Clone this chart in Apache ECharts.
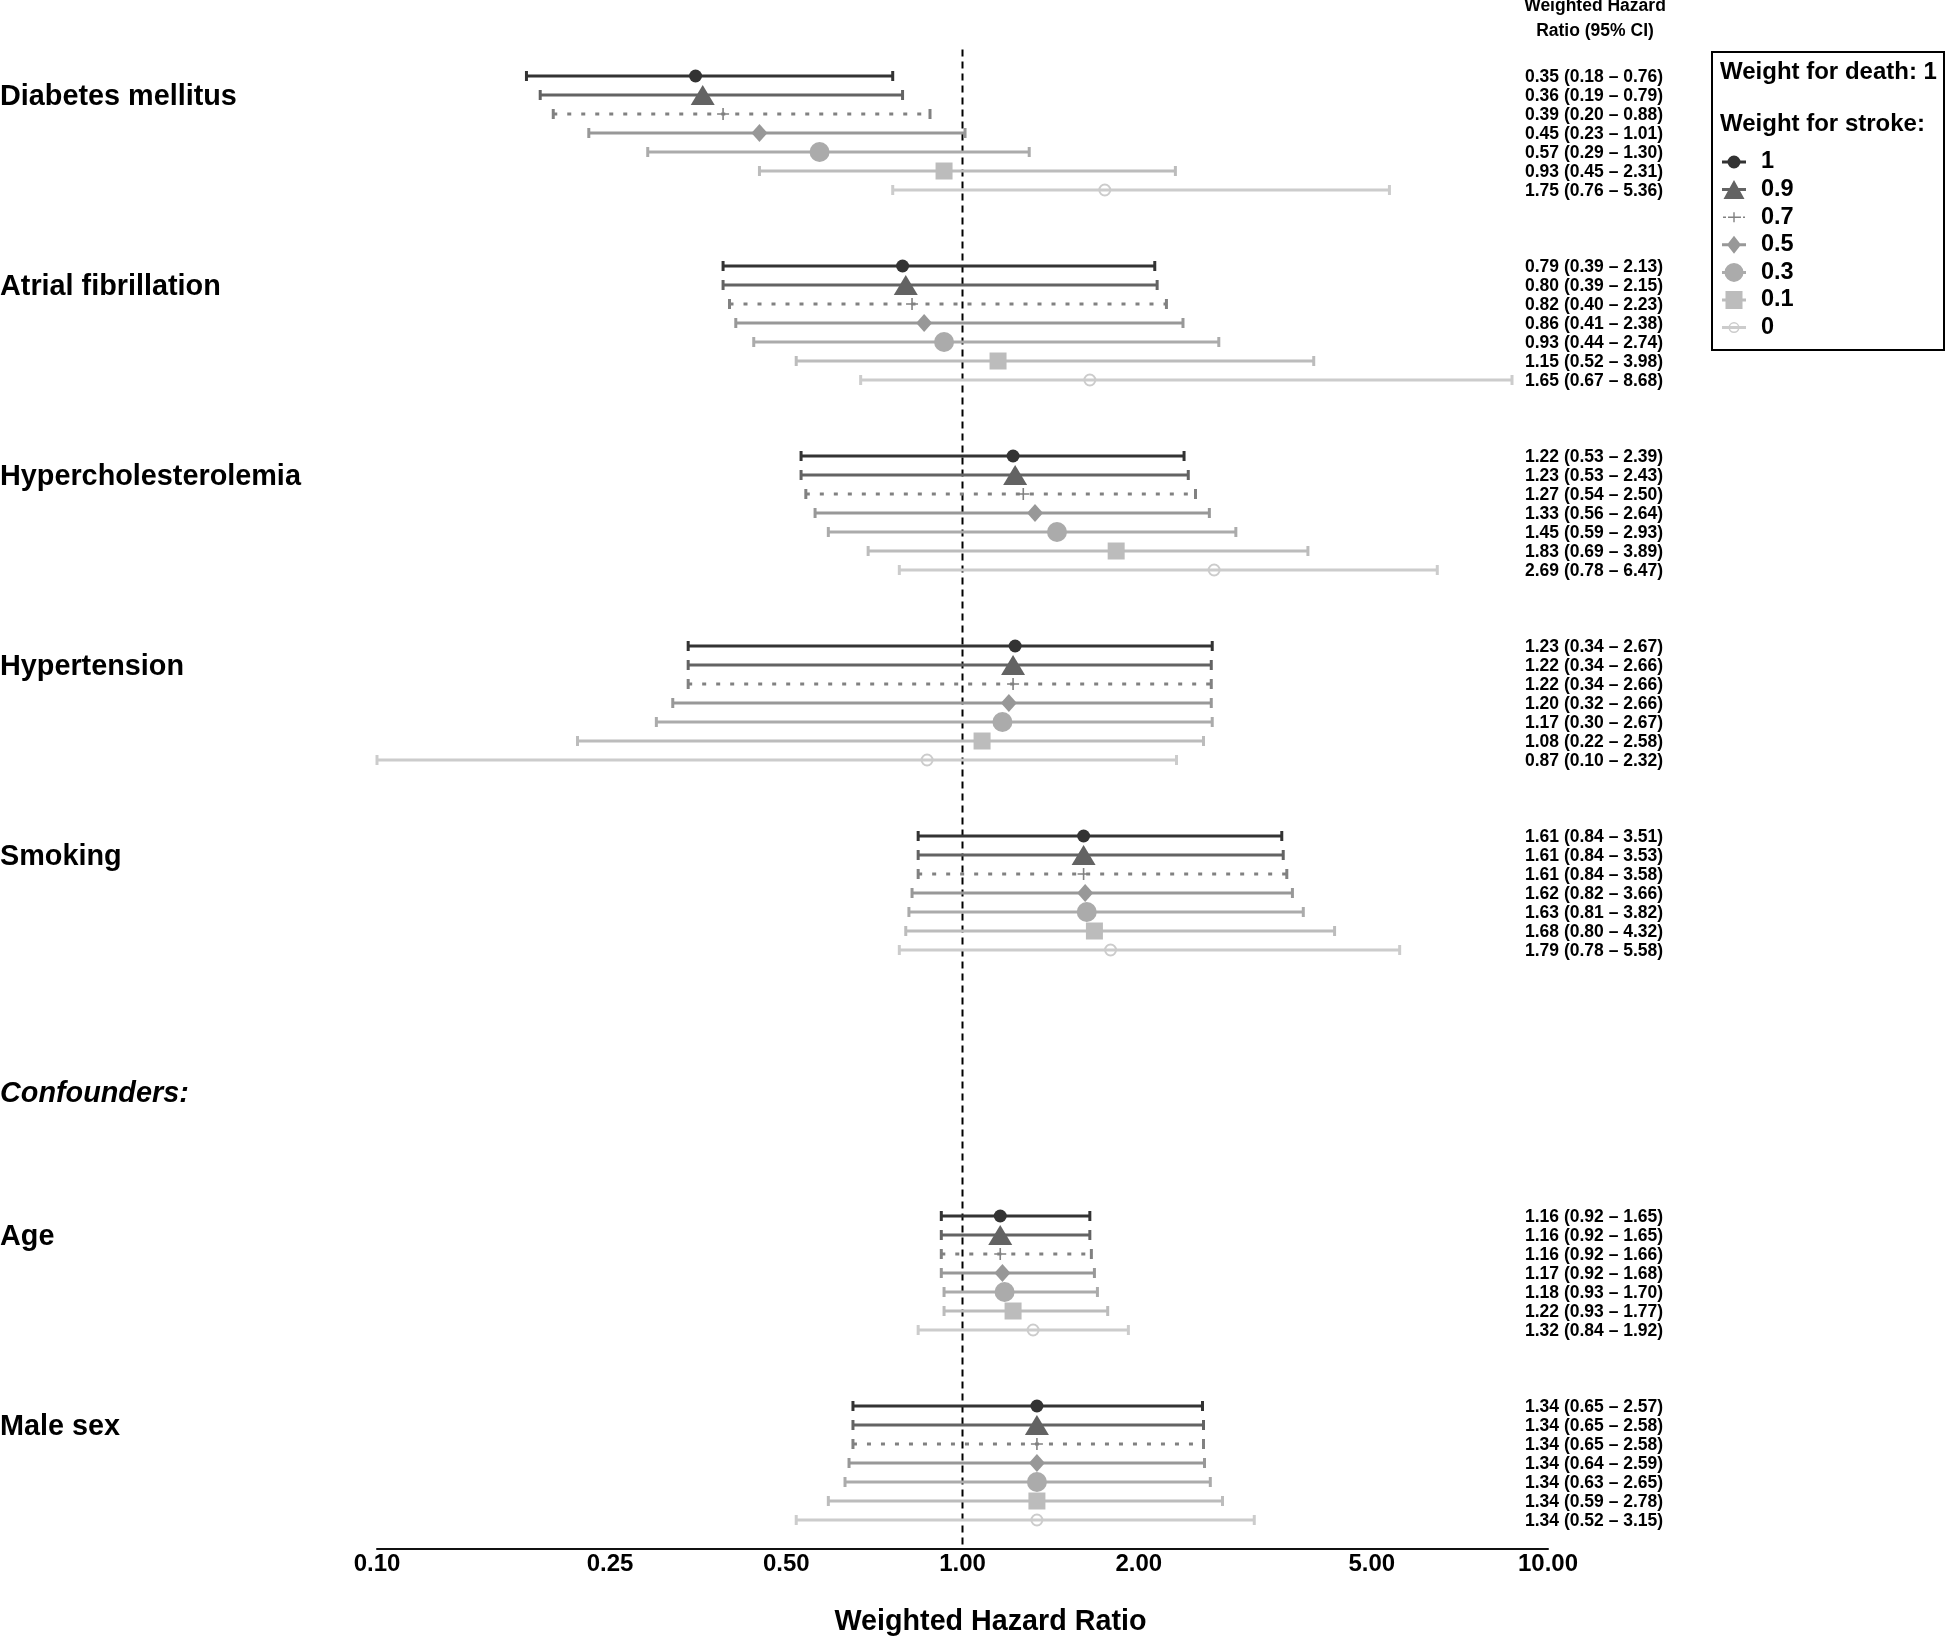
<!DOCTYPE html>
<html><head><meta charset="utf-8">
<script src="https://cdn.jsdelivr.net/npm/echarts@6/dist/echarts.min.js"></script>
<style>html,body{margin:0;padding:0;background:#fff}#chart{width:1946px;height:1637px}</style>
</head><body><div id="chart"></div>
<script>
// ---------- DATA ----------
const strokeWeights = ['1', '0.9', '0.7', '0.5', '0.3', '0.1', '0'];
const groupNames = ['Diabetes mellitus', 'Atrial fibrillation', 'Hypercholesterolemia', 'Hypertension', 'Smoking', 'Age', 'Male sex'];
const groupFirstRow = [0, 10, 20, 30, 40, 60, 70];
const sectionLabel = 'Confounders:';
const sectionRow = 53.5;
// [HR, lower, upper] for stroke weight 1, 0.9, 0.7, 0.5, 0.3, 0.1, 0
const diabetesMellitus = [[0.35,0.18,0.76],[0.36,0.19,0.79],[0.39,0.20,0.88],[0.45,0.23,1.01],[0.57,0.29,1.30],[0.93,0.45,2.31],[1.75,0.76,5.36]];
const atrialFibrillation = [[0.79,0.39,2.13],[0.80,0.39,2.15],[0.82,0.40,2.23],[0.86,0.41,2.38],[0.93,0.44,2.74],[1.15,0.52,3.98],[1.65,0.67,8.68]];
const hypercholesterolemia = [[1.22,0.53,2.39],[1.23,0.53,2.43],[1.27,0.54,2.50],[1.33,0.56,2.64],[1.45,0.59,2.93],[1.83,0.69,3.89],[2.69,0.78,6.47]];
const hypertension = [[1.23,0.34,2.67],[1.22,0.34,2.66],[1.22,0.34,2.66],[1.20,0.32,2.66],[1.17,0.30,2.67],[1.08,0.22,2.58],[0.87,0.10,2.32]];
const smoking = [[1.61,0.84,3.51],[1.61,0.84,3.53],[1.61,0.84,3.58],[1.62,0.82,3.66],[1.63,0.81,3.82],[1.68,0.80,4.32],[1.79,0.78,5.58]];
const age = [[1.16,0.92,1.65],[1.16,0.92,1.65],[1.16,0.92,1.66],[1.17,0.92,1.68],[1.18,0.93,1.70],[1.22,0.93,1.77],[1.32,0.84,1.92]];
const maleSex = [[1.34,0.65,2.57],[1.34,0.65,2.58],[1.34,0.65,2.58],[1.34,0.64,2.59],[1.34,0.63,2.65],[1.34,0.59,2.78],[1.34,0.52,3.15]];
const xTicks = [0.1, 0.25, 0.5, 1, 2, 5, 10];
const referenceHR = 1;

// ---------- STYLE ----------
const groups = [diabetesMellitus, atrialFibrillation, hypercholesterolemia, hypertension, smoking, age, maleSex];
const FONT = "'Liberation Sans', Arial, Helvetica, sans-serif";
const colors = ['#333333', '#636363', '#818181', '#989898', '#ababab', '#bcbcbc', '#cccccc'];
const crossPath = 'path://M5.2 0H6.8V5.2H12V6.8H6.8V12H5.2V6.8H0V5.2H5.2Z';
const symbols = ['circle', 'triangle', crossPath, 'diamond', 'circle', 'rect', 'circle'];
const sizes = [13, [24, 20], 12, [16, 18], 20, 17, 11];
const pre = 'M0 0M34 20';
const lineP = 'M0 8.5H24V11.5H0Z';
const legendIcons = [
  'path://' + pre + lineP + 'M18.5 10A6.5 6.5 0 1 1 5.5 10A6.5 6.5 0 1 1 18.5 10Z',
  'path://' + pre + lineP + 'M12 0.5L22.5 19.5H1.5Z',
  'path://' + pre + 'M1 9.2H4V10.8H1Z M6 9.2H8.5V10.8H6Z M17 9.2H19V10.8H17Z M21 9.2H23V10.8H21Z M11.3 5H12.7V9.3H17V10.7H12.7V15H11.3V10.7H7V9.3H11.3Z',
  'path://' + pre + lineP + 'M12 1L19 10L12 19L5 10Z',
  'path://' + pre + lineP + 'M21.5 10A9.5 9.5 0 1 1 2.5 10A9.5 9.5 0 1 1 21.5 10Z',
  'path://' + pre + lineP + 'M3.5 1H20.5V19H3.5Z',
  'path://' + pre + lineP + 'M17.5 10A5.5 5.5 0 1 1 6.5 10A5.5 5.5 0 1 1 17.5 10Z M16 10A4 4 0 1 0 8 10A4 4 0 1 0 16 10Z'
];

const series = [];

// reference line at HR = 1
series.push({
  type: 'custom', name: 'ref', silent: true, z: 1,
  data: [[referenceHR, -1.4, 77.5]],
  encode: { x: 0, y: [1, 2] },
  renderItem: function (params, api) {
    const a = api.coord([api.value(0), api.value(1)]);
    const b = api.coord([api.value(0), api.value(2)]);
    return { type: 'line', shape: { x1: a[0], y1: a[1], x2: b[0], y2: b[1] },
      style: { stroke: '#000', lineWidth: 2, lineDash: [7, 5] } };
  }
});

strokeWeights.forEach(function (w, si) {
  const rows = groups.map(function (g, gi) { return [g[si][0], groupFirstRow[gi] + si, g[si][1], g[si][2]]; });
  series.push({
    type: 'custom', name: w, silent: true, z: 2,
    data: rows,
    encode: { x: [0, 2, 3], y: 1 },
    renderItem: function (params, api) {
      const y = api.value(1);
      const a = api.coord([api.value(2), y]);
      const b = api.coord([api.value(3), y]);
      const st = { stroke: colors[si], lineWidth: 3.2, lineDash: si === 2 ? [4, 10] : null };
      const cap = 5;
      return { type: 'group', children: [
        { type: 'line', shape: { x1: a[0], y1: a[1], x2: b[0], y2: b[1] }, style: st },
        { type: 'line', shape: { x1: a[0], y1: a[1] - cap, x2: a[0], y2: a[1] + cap }, style: { stroke: colors[si], lineWidth: 3 } },
        { type: 'line', shape: { x1: b[0], y1: b[1] - cap, x2: b[0], y2: b[1] + cap }, style: { stroke: colors[si], lineWidth: 3 } }
      ] };
    }
  });
  series.push({
    type: 'scatter', name: w, silent: true, z: 3,
    symbol: symbols[si], symbolSize: sizes[si],
    data: rows.map(function (r) { return [r[0], r[1]]; }),
    itemStyle: si === 6
      ? { color: 'rgba(0,0,0,0)', borderColor: colors[si], borderWidth: 2, opacity: 1 }
      : { color: colors[si], opacity: 1 }
  });
  // CI text column
  series.push({
    type: 'custom', name: 'ci' + w, silent: true, z: 4,
    data: rows,
    encode: { x: 0, y: 1 },
    renderItem: function (params, api) {
      const p = api.coord([xTicks[xTicks.length - 1], api.value(1)]);
      const txt = api.value(0).toFixed(2) + ' (' + api.value(2).toFixed(2) + ' \u2013 ' + api.value(3).toFixed(2) + ')';
      return { type: 'text', x: p[0] - 23, y: p[1] + 1,
        style: { text: txt, fill: '#000', font: 'bold 17.5px ' + FONT, textAlign: 'left', textVerticalAlign: 'middle' } };
    }
  });
});

// group labels
const labelData = groupNames.map(function (n, i) { return [1, groupFirstRow[i] + 1]; });
labelData.push([1, sectionRow]);
const labelTexts = groupNames.concat([sectionLabel]);
series.push({
  type: 'custom', name: 'labels', silent: true, z: 5,
  data: labelData,
  encode: { x: 0, y: 1 },
  renderItem: function (params, api) {
    const p = api.coord([api.value(0), api.value(1)]);
    const isSection = params.dataIndex === labelTexts.length - 1;
    return { type: 'text', x: 0, y: p[1] + 2,
      style: { text: labelTexts[params.dataIndex], fill: '#000',
        font: (isSection ? 'italic ' : '') + 'bold 28.8px ' + FONT, textAlign: 'left', textVerticalAlign: 'middle' } };
  }
});

const chart = echarts.init(document.getElementById('chart'), null, { renderer: 'canvas' });
chart.setOption({
  animation: false,
  backgroundColor: '#fff',
  grid: { left: 377, right: 398, top: 0, bottom: 88.5, containLabel: false, outerBoundsMode: 'none' },
  xAxis: {
    type: 'log', logBase: 10, min: 0.1, max: 10,
    axisLine: { show: true, onZero: false, lineStyle: { color: '#111', width: 2 } },
    axisTick: { show: false },
    splitLine: { show: false },
    axisLabel: {
      customValues: xTicks, margin: 4,
      formatter: function (v) { return Number(v).toFixed(2); },
      fontSize: 24, fontWeight: 'bold', color: '#000', fontFamily: FONT
    },
    name: 'Weighted Hazard Ratio', nameLocation: 'middle', nameGap: 59,
    nameTextStyle: { fontSize: 28.7, fontWeight: 'bold', color: '#000', fontFamily: FONT, padding: [0, 0, 0, 56] }
  },
  yAxis: { type: 'value', inverse: true, min: -4, max: 77.5, show: false },
  legend: {
    orient: 'vertical', left: 1722, top: 150, padding: 0,
    itemWidth: 34, itemHeight: 20, itemGap: 3.6, selectedMode: false,
    data: strokeWeights.map(function (w, i) { return { name: w, icon: legendIcons[i], itemStyle: { color: colors[i], borderWidth: 0, opacity: 1 } }; }),
    textStyle: { fontSize: 23.5, fontWeight: 'bold', color: '#000', fontFamily: FONT }
  },
  graphic: [
    { type: 'rect', left: 1711, top: 51, shape: { width: 232, height: 298 }, style: { fill: '#fff', stroke: '#000', lineWidth: 2 }, z: 0 },
    { type: 'text', x: 1720, y: 72, style: { text: 'Weight for death: 1', font: 'bold 24px ' + FONT, fill: '#000', textVerticalAlign: 'middle' }, z: 1 },
    { type: 'text', x: 1720, y: 124, style: { text: 'Weight for stroke:', font: 'bold 24px ' + FONT, fill: '#000', textVerticalAlign: 'middle' }, z: 1 },
    { type: 'text', x: 1595, y: 6, style: { text: 'Weighted Hazard', font: 'bold 17.5px ' + FONT, fill: '#000', textAlign: 'center', textVerticalAlign: 'middle' } },
    { type: 'text', x: 1595, y: 31, style: { text: 'Ratio (95% CI)', font: 'bold 17.5px ' + FONT, fill: '#000', textAlign: 'center', textVerticalAlign: 'middle' } }
  ],
  series: series
});
</script></body></html>
